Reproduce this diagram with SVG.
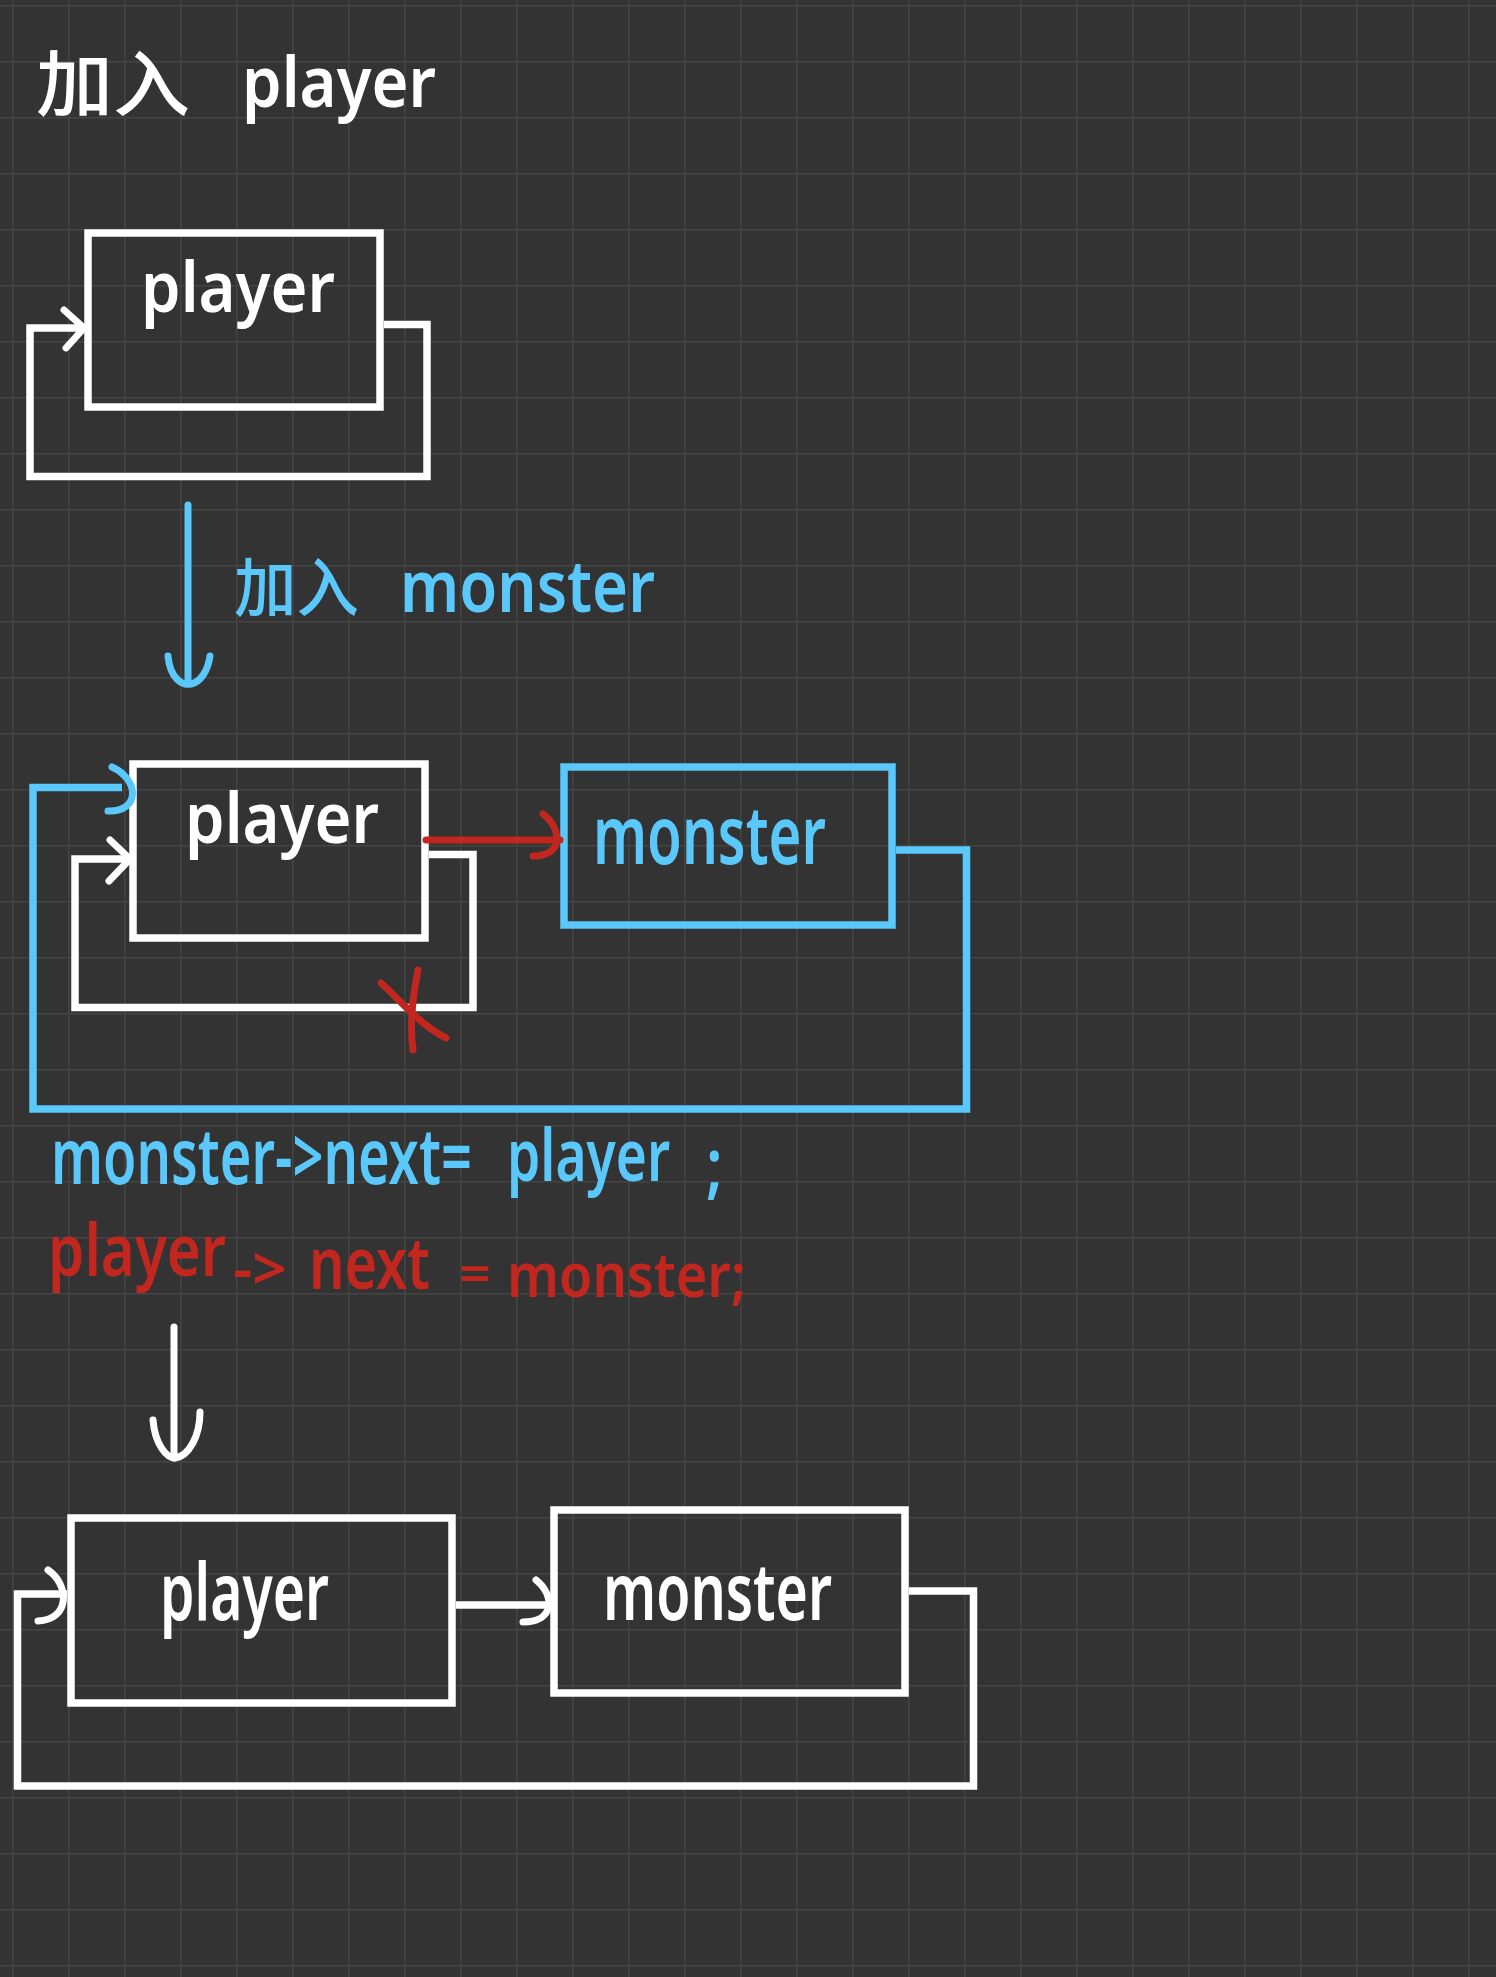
<svg xmlns="http://www.w3.org/2000/svg" width="1496" height="1977" viewBox="0 0 1496 1977">
<defs>
<pattern id="grid" width="56" height="56" patternUnits="userSpaceOnUse" x="12" y="5">
<rect width="56" height="56" fill="#333333"/>
<path d="M0 0.75H56M0.75 0V56" stroke="#444444" stroke-width="1.5" fill="none"/>
</pattern>
<style>
.box{fill:none;stroke-width:7.5}
.w{stroke:#ffffff}
.b{stroke:#5ac8fa}
.r{stroke:#c1271e}
.ln{fill:none;stroke-width:7;stroke-linecap:round;stroke-linejoin:round}
.lnj{fill:none;stroke-width:7.5;stroke-linecap:butt;stroke-linejoin:miter}
.t{font-family:"Noto Sans","Liberation Sans",sans-serif;font-weight:600}
.cjk{font-family:"Noto Sans CJK SC","Noto Sans",sans-serif;font-weight:500}
.tw{fill:#ffffff}
.tb{fill:#5ac8fa}
.tr{fill:#c1271e}
</style>
</defs>
<rect width="1496" height="1977" fill="url(#grid)"/>

<g id="title">
<text class="cjk tw" x="36" y="110" font-size="72" textLength="154" lengthAdjust="spacingAndGlyphs">加入</text>
<text class="t tw" transform="translate(242,107) scale(1,1.09)" font-size="64" textLength="194" lengthAdjust="spacingAndGlyphs">player</text>
</g>

<g id="node-player-1">
<rect class="box w" x="88" y="233" width="292" height="174"/>
<text class="t tw" transform="translate(141,312) scale(1,1.09)" font-size="64" textLength="194" lengthAdjust="spacingAndGlyphs">player</text>
</g>

<g id="label-add-monster">
<text class="cjk tb" x="234" y="611" font-size="64" textLength="125" lengthAdjust="spacingAndGlyphs">加入</text>
<text class="t tb" transform="translate(400,612) scale(1,1.11)" font-size="65" textLength="255" lengthAdjust="spacingAndGlyphs">monster</text>
</g>

<g id="node-player-2">
<rect class="box w" x="133" y="764" width="292" height="174"/>
<text class="t tw" transform="translate(185,843) scale(1,1.09)" font-size="64" textLength="194" lengthAdjust="spacingAndGlyphs">player</text>
</g>

<g id="node-monster-2">
<rect class="box b" x="564" y="767" width="328" height="158"/>
<text class="t tb" transform="translate(593,864) scale(1,1.39)" font-size="59" textLength="233" lengthAdjust="spacingAndGlyphs">monster</text>
</g>

<g id="code">
<text class="t tb" transform="translate(51,1184) scale(1,1.42)" font-size="55" textLength="421" lengthAdjust="spacingAndGlyphs">monster-&gt;next=</text>
<text class="t tb" transform="translate(507,1181) scale(1,1.33)" font-size="54" textLength="163" lengthAdjust="spacingAndGlyphs">player</text>
<text class="t tb" transform="translate(706,1190) scale(1,1.2)" font-size="60">;</text>
<text class="t tr" transform="translate(48,1276) scale(1,1.22)" font-size="59" textLength="178" lengthAdjust="spacingAndGlyphs">player</text>
<text class="t tr" transform="translate(233,1290) scale(1,1.07)" font-size="56" textLength="54" lengthAdjust="spacingAndGlyphs">-&gt;</text>
<text class="t tr" transform="translate(309,1289) scale(1,1.26)" font-size="57" textLength="121" lengthAdjust="spacingAndGlyphs">next</text>
<text class="t tr" x="459" y="1292" font-size="50" textLength="32" lengthAdjust="spacingAndGlyphs">=</text>
<text class="t tr" transform="translate(507,1297) scale(1,1.09)" font-size="57" textLength="239" lengthAdjust="spacingAndGlyphs">monster;</text>
</g>

<g id="node-player-3">
<rect class="box w" x="71" y="1518" width="381" height="185"/>
<text class="t tw" transform="translate(160,1620) scale(1,1.43)" font-size="56" textLength="169" lengthAdjust="spacingAndGlyphs">player</text>
</g>

<g id="node-monster-3">
<rect class="box w" x="554" y="1510" width="351" height="183"/>
<text class="t tw" transform="translate(603,1620) scale(1,1.38)" font-size="58" textLength="229" lengthAdjust="spacingAndGlyphs">monster</text>
</g>

<g id="connectors">
<!-- diagram 1 self loop -->
<path class="lnj w" d="M384 324.5H427V476.5H30V328H84"/>
<path class="ln w" d="M64 310L84 328L66 348"/>
<!-- blue step arrow -->
<path class="ln b" d="M188 505V683"/>
<path class="ln b" d="M168 656C170 678 182 686 191 684C201 682 208 670 210 656"/>
<!-- diagram 2 inner white self loop -->
<path class="lnj w" d="M429 854.5H473V1007.5H75V859H131"/>
<path class="ln w" d="M110 840L130 859L109 881"/>
<!-- red cross -->
<path class="ln r" d="M381 983C400 1000 420 1025 446 1038"/>
<path class="ln r" d="M418 970C412 1000 410 1030 413 1050"/>
<!-- red arrow player -> monster -->
<path class="ln r" d="M426 840H560"/>
<path class="ln r" d="M543 814C560 826 566 856 533 856"/>
<!-- blue loop monster -> player -->
<path class="lnj b" d="M896 850H966.5V1109H33V787.5H122"/>
<path class="ln b" d="M112 767C140 780 140 812 108 811"/>
<!-- white step arrow -->
<path class="ln w" d="M174 1327V1458"/>
<path class="ln w" d="M153 1420C155 1445 167 1458 175 1458C189 1456 200 1436 200 1412"/>
<!-- diagram 3 arrow player -> monster -->
<path class="lnj w" d="M456 1605H549"/>
<path class="ln w" d="M536 1580C555 1595 555 1622 523 1622"/>
<!-- diagram 3 loop monster -> player -->
<path class="lnj w" d="M909 1591H973.5V1786H17.5V1594H67"/>
<path class="ln w" d="M48 1570C70 1585 70 1620 38 1621"/>
</g>
</svg>
